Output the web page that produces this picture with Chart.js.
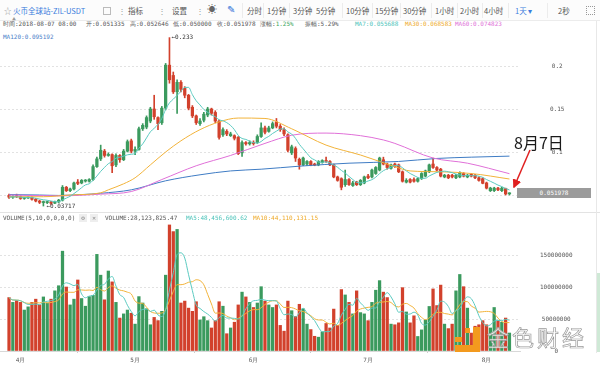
<!DOCTYPE html>
<html>
<head>
<meta charset="utf-8">
<script src="https://cdn.jsdelivr.net/npm/chart.js"></script>
<style>
  body { margin:0; width:600px; height:365px; position:relative; overflow:hidden; background:#fff;
         font-family:"Noto Sans CJK SC","Noto Sans",sans-serif; }
  .a { position:absolute; white-space:nowrap; }
  .tb { font-size:7.5px; color:#555; top:5px; line-height:12px; }
  .sep { position:absolute; top:3px; width:1px; height:15px; background:#ececec; }
  .mono { font-family:"DejaVu Sans Mono",monospace; font-size:6px; color:#555; line-height:8px; }
  .box { position:absolute; left:0; width:600px; }
</style>
</head>
<body>
<!-- toolbar -->
<div class="a" style="left:0;top:0;width:600px;height:20px;background:#fcfcfc;border-bottom:1px solid #ececec"></div>
<div class="a tb" style="left:4px;color:#999">☆</div>
<div class="a tb" style="left:13px;color:#3b7ddd">火币全球站-ZIL-USDT</div>
<div class="a" style="left:103px;top:7px;width:6px;height:6px;border:1px solid #bbb"></div>
<div class="a tb" style="left:118px;color:#999">⋮</div>
<div class="a tb" style="left:128px">指标</div>
<div class="a tb" style="left:158px;color:#999">⋮</div>
<div class="a tb" style="left:172px">设置</div>
<div class="a tb" style="left:196px;color:#999">⋮</div>
<div class="a tb" style="left:207px;top:3px;font-size:10px;color:#666">☀</div>
<div class="a tb" style="left:227px;top:3px;font-size:10px;color:#2f6fd8">✎</div>
<div class="sep" style="left:242px"></div>
<div class="a tb" style="left:247px">分时</div>
<div class="sep" style="left:263px"></div>
<div class="a tb" style="left:267px">1分钟</div>
<div class="sep" style="left:289px"></div>
<div class="a tb" style="left:293px">3分钟</div>
<div class="a tb" style="left:316px">5分钟</div>
<div class="sep" style="left:342px"></div>
<div class="a tb" style="left:346px">10分钟</div>
<div class="sep" style="left:372px"></div>
<div class="a tb" style="left:375px">15分钟</div>
<div class="sep" style="left:400px"></div>
<div class="a tb" style="left:403px">30分钟</div>
<div class="sep" style="left:431px"></div>
<div class="a tb" style="left:435px">1小时</div>
<div class="sep" style="left:457px"></div>
<div class="a tb" style="left:460px">2小时</div>
<div class="sep" style="left:482px"></div>
<div class="a tb" style="left:484px">4小时</div>
<div class="sep" style="left:508px"></div>
<div class="a tb" style="left:515px;color:#3b7ddd">1天 ▾</div>
<div class="sep" style="left:547px"></div>
<div class="a tb" style="left:558px">2秒</div>
<div class="a" style="left:586px;top:6px;width:7px;height:7px;border:1px dotted #999"></div>
<div class="a" style="left:12px;top:16px;font-size:4px;color:#999">▲</div>

<!-- info line -->
<div class="a mono" style="left:3px;top:20px">时间:2018-08-07 08:00</div>
<div class="a mono" style="left:86px;top:20px">开:0.051335</div>
<div class="a mono" style="left:130px;top:20px">高:0.052646</div>
<div class="a mono" style="left:173px;top:20px">低:0.050000</div>
<div class="a mono" style="left:217px;top:20px">收:0.051978</div>
<div class="a mono" style="left:260px;top:20px">涨幅:<span style="color:#3aa55a">1.25%</span></div>
<div class="a mono" style="left:305px;top:20px">振幅:5.29%</div>
<div class="a mono" style="left:355px;top:20px;color:#4cc3b9">MA7:0.055688</div>
<div class="a mono" style="left:405px;top:20px;color:#eeaa2a">MA30:0.068583</div>
<div class="a mono" style="left:455px;top:20px;color:#e070d8">MA60:0.074823</div>
<div class="a mono" style="left:3px;top:33px;color:#4a80c8">MA120:0.095192</div>

<div class="a" style="left:0;top:212px;width:600px;height:1px;background:#e3e3e3"></div>
<div class="box" style="top:213px;height:152px"><canvas id="volChart"></canvas></div>
<div class="box" style="top:29px;height:187px"><canvas id="priceChart"></canvas></div>
<div class="a" style="left:596px;top:21px;width:1px;height:332px;background:#e8e8e8"></div>
<div class="a" style="left:597px;top:273px;width:3px;height:79px;background:#cfe9d6"></div>

<!-- volume header -->
<div class="a mono" style="left:3px;top:214px">VOLUME(5,10,0,0,0,0)</div>
<div class="a mono" style="left:79px;top:214px;width:8px;text-align:center;background:#eee;color:#888">⚙</div>
<div class="a mono" style="left:90px;top:214px;width:8px;text-align:center;background:#eee;color:#888">✕</div>
<div class="a mono" style="left:105px;top:214px">VOLUME:28,123,825.47</div>
<div class="a mono" style="left:186px;top:214px;color:#4cc3b9">MA5:48,456,600.62</div>
<div class="a mono" style="left:253px;top:214px;color:#eeaa2a">MA10:44,110,131.15</div>

<!-- last price tag -->
<div class="a mono" style="left:517px;top:188px;width:74px;height:10px;line-height:10px;background:#9b9b9b;color:#fff;text-align:center">0.051978</div>

<!-- annotation -->
<div class="a" style="left:514px;top:132px;font-size:16px;line-height:20px;color:#1a1a1a">8月7日</div>
<svg class="a" style="left:0;top:0" width="600" height="365">
  <defs><marker id="ah" markerWidth="6" markerHeight="6" refX="5" refY="3" orient="auto"><path d="M0,0 L6,3 L0,6 z" fill="#e02020"/></marker></defs>
  <line x1="530" y1="150" x2="514" y2="187" stroke="#e02020" stroke-width="1.5" marker-end="url(#ah)"/>
</svg>

<!-- watermark -->
<div class="a" style="left:473px;top:327px;width:7px;height:25px;background:#f39a1e"></div>
<div class="a" style="left:455px;top:345px;width:25px;height:7px;background:#f39a1e"></div>
<div class="a" style="left:465px;top:328px;width:5px;height:5px;background:#f39a1e"></div>
<div class="a" style="left:455px;top:337px;width:7px;height:5px;background:#f39a1e"></div>
<div class="a" style="left:487px;top:323px;font-size:22px;line-height:26px;letter-spacing:3px;color:rgba(255,255,255,0.8);-webkit-text-stroke:0.7px #999">金色财经</div>

<script>
// daily candles, 2018-03-29 .. 2018-08-07 (index 0..131)
const open = [0.0495,0.0475,0.0485,0.048,0.046,0.0465,0.047,0.045,0.043,0.0412,
  0.0412,0.042,0.0405,0.042,0.044,0.059,0.055,0.057,0.065,0.064,
  0.0662,0.066,0.068,0.083,0.092,0.101,0.096,0.097,0.085,0.096,
  0.091,0.101,0.113,0.101,0.103,0.127,0.129,0.136,0.150,0.140,
  0.134,0.151,0.201,0.189,0.170,0.181,0.174,0.166,0.152,0.142,
  0.133,0.137,0.143,0.150,0.146,0.136,0.120,0.124,0.119,0.119,
  0.117,0.099,0.111,0.1095,0.111,0.111,0.118,0.128,0.124,0.128,
  0.135,0.130,0.126,0.120,0.099,0.104,0.0915,0.085,0.086,0.089,
  0.086,0.085,0.088,0.090,0.089,0.085,0.071,0.069,0.062,0.068,
  0.061,0.065,0.062,0.064,0.072,0.071,0.075,0.079,0.091,0.086,
  0.081,0.086,0.085,0.077,0.065,0.068,0.068,0.066,0.069,0.072,
  0.077,0.086,0.082,0.080,0.071,0.073,0.073,0.070,0.071,0.075,
  0.071,0.074,0.073,0.070,0.069,0.064,0.055,0.055,0.058,0.055,
  0.0575,0.051335];
const high = [0.051,0.049,0.051,0.049,0.047,0.048,0.048,0.046,0.044,0.043,
  0.043,0.0425,0.043,0.045,0.061,0.060,0.058,0.065,0.068,0.068,
  0.068,0.069,0.085,0.094,0.108,0.103,0.099,0.098,0.098,0.097,
  0.103,0.114,0.115,0.106,0.129,0.133,0.142,0.152,0.166,0.141,
  0.153,0.203,0.233,0.193,0.184,0.183,0.176,0.167,0.154,0.143,
  0.139,0.146,0.152,0.151,0.148,0.137,0.128,0.126,0.123,0.120,
  0.118,0.113,0.112,0.113,0.113,0.120,0.134,0.130,0.130,0.135,
  0.139,0.132,0.128,0.121,0.108,0.106,0.093,0.094,0.090,0.090,
  0.087,0.090,0.091,0.094,0.090,0.086,0.072,0.070,0.079,0.069,
  0.066,0.066,0.068,0.072,0.074,0.080,0.083,0.094,0.094,0.087,
  0.086,0.087,0.086,0.078,0.069,0.069,0.070,0.070,0.076,0.079,
  0.086,0.093,0.083,0.081,0.074,0.074,0.074,0.074,0.077,0.076,
  0.074,0.075,0.074,0.071,0.070,0.065,0.059,0.059,0.059,0.059,
  0.058,0.052646];
const low = [0.046,0.046,0.047,0.045,0.045,0.046,0.044,0.042,0.040,0.03717,
  0.040,0.039,0.040,0.041,0.043,0.054,0.054,0.056,0.062,0.063,
  0.065,0.065,0.067,0.082,0.090,0.094,0.095,0.076,0.083,0.088,
  0.090,0.100,0.099,0.097,0.102,0.125,0.127,0.134,0.138,0.126,
  0.132,0.149,0.180,0.168,0.145,0.170,0.163,0.149,0.140,0.132,
  0.131,0.135,0.141,0.143,0.134,0.115,0.118,0.119,0.118,0.114,
  0.097,0.095,0.108,0.108,0.108,0.110,0.117,0.121,0.123,0.127,
  0.128,0.124,0.119,0.100,0.097,0.089,0.080,0.084,0.084,0.084,
  0.084,0.084,0.087,0.088,0.084,0.070,0.066,0.056,0.060,0.061,
  0.060,0.061,0.061,0.063,0.069,0.070,0.074,0.078,0.085,0.080,
  0.080,0.082,0.076,0.065,0.064,0.064,0.065,0.065,0.068,0.071,
  0.076,0.081,0.078,0.071,0.070,0.069,0.070,0.069,0.070,0.071,
  0.070,0.071,0.069,0.066,0.063,0.057,0.054,0.054,0.055,0.054,
  0.050,0.050];
const close = [0.0475,0.048,0.048,0.046,0.0467,0.047,0.045,0.043,0.0415,0.042,
  0.042,0.0405,0.042,0.044,0.059,0.055,0.057,0.064,0.0635,0.067,
  0.0668,0.068,0.083,0.092,0.102,0.096,0.097,0.084,0.096,0.091,
  0.101,0.112,0.101,0.103,0.127,0.131,0.140,0.150,0.141,0.133,
  0.151,0.201,0.184,0.170,0.181,0.173,0.166,0.151,0.142,0.134,
  0.136,0.144,0.150,0.145,0.136,0.117,0.126,0.121,0.121,0.116,
  0.098,0.111,0.1095,0.111,0.1098,0.118,0.128,0.123,0.128,0.133,
  0.130,0.126,0.121,0.102,0.106,0.093,0.085,0.093,0.089,0.085,
  0.0848,0.089,0.090,0.089,0.085,0.071,0.067,0.059,0.068,0.062,
  0.064,0.062,0.067,0.071,0.070,0.079,0.082,0.093,0.086,0.082,
  0.085,0.083,0.077,0.066,0.067,0.065,0.066,0.069,0.075,0.078,
  0.085,0.082,0.079,0.072,0.073,0.070,0.071,0.073,0.076,0.072,
  0.073,0.072,0.070,0.067,0.0636,0.058,0.058,0.058,0.056,0.058,
  0.0512,0.051978];
// volume in millions
const volume = [83.5,76,79,76,64,69,76,81,72,84.5,
  75,81,94,102,156,100,72,81,111,82,
  70,85,87,151,118.5,80,125,108,76,51.5,
  58,64,59,42,85,75,66,41,52.5,47.5,
  62,118.5,197,186.6,190,75,78,67,62,77,
  48.5,53.6,47.4,36,47.4,77,70,27,36,45,
  72,92,84.5,76,68,75,100.5,78,72,68,
  72,40,31,78,63,54,73,66,42,33.5,
  23,21.6,30,43,36,65.5,40,96,87.6,76,
  58,94,60,58,47.4,76,95,110,92,83.5,
  42,41,44,99,61,44,55,22.7,33,48.5,
  69.6,97,71,103,42,35,42,94,119.6,100.5,
  67,28,38.7,41,47.4,41,36,68,47.4,45,
  51.5,28.1];

// long moving averages (day index -> value)
const ma30Idx = [0,9,16,24,26,30,33,37,41,45,50,55,60,67,74,83,92,97,101,105,113,121,131];
const ma30Val = [0.048,0.048,0.050,0.0525,0.056,0.063,0.070,0.085,0.100,0.113,0.126,0.135,0.1395,0.139,0.127,0.108,0.0965,0.089,0.083,0.078,0.077,0.075,0.0686];
const ma60Idx = [0,13,24,32,40,49,58,67,74,83,92,98,101,111,120,131];
const ma60Val = [0.050,0.049,0.051,0.054,0.068,0.084,0.096,0.110,0.1195,0.122,0.119,0.114,0.110,0.093,0.087,0.0748];
const ma120Idx = [0,8,13,19,24,32,41,50,58,66,76,89,102,112,121,131];
const ma120Val = [0.0505,0.050,0.0495,0.0505,0.052,0.056,0.0665,0.0735,0.078,0.080,0.0835,0.087,0.089,0.0925,0.094,0.0952];

const monthTicks = [3, 33, 64, 94, 125];
const monthLabels = ['4月', '5月', '6月', '7月', '8月'];
const priceTicks = [0.05, 0.1, 0.15, 0.2];
const volTicks = [0, 50, 100, 150];

const upColor = '#3b9a5e', downColor = '#d2412c';
const barColors = close.map((c, i) => c >= open[i] ? upColor : downColor);

function movingAvg(vals, n) {
  return vals.map((v, i) => {
    const s = vals.slice(Math.max(0, i - n + 1), i + 1);
    return s.reduce((a, b) => a + b, 0) / s.length;
  });
}
const pts = (idx, val) => idx.map((x, k) => ({x: x, y: val[k]}));
const series = vals => vals.map((v, i) => ({x: i, y: v}));

const monoFont = {family: 'DejaVu Sans Mono', size: 6};
const xMin = -2.36, xMax = 133.76;

// label the highest high / lowest low
const hiLo = {
  id: 'hiLo',
  afterDatasetsDraw(chart) {
    const {ctx, scales: {x, y}} = chart;
    const hi = Math.max(...high), lo = Math.min(...low);
    const iHi = high.indexOf(hi), iLo = low.indexOf(lo);
    ctx.save();
    ctx.font = '6px "DejaVu Sans Mono"';
    ctx.fillStyle = '#333';
    ctx.textBaseline = 'middle';
    ctx.fillText('←' + hi, x.getPixelForValue(iHi) + 2, y.getPixelForValue(hi));
    ctx.fillText('←' + lo, x.getPixelForValue(iLo) + 3, y.getPixelForValue(lo));
    ctx.restore();
  }
};

const lineDs = (data, color) => ({
  type: 'line', data: data, borderColor: color, borderWidth: 1, pointRadius: 0,
  fill: false, order: 0, cubicInterpolationMode: 'monotone'
});

const baseOpts = {
  responsive: true, maintainAspectRatio: false, animation: false,
  devicePixelRatio: 1,
  plugins: {legend: {display: false}, tooltip: {enabled: false}}
};

// y axis on the right; label offset done with invisible tick marks
const rightAxis = (min, max, ticks, offset, fmt) => ({
  position: 'right', min: min, max: max,
  afterBuildTicks: s => { s.ticks = ticks.map(v => ({value: v})); },
  afterFit: s => { s.width = 80; },
  grid: {color: '#e2e2e2', drawTicks: true, tickLength: offset, tickColor: 'rgba(0,0,0,0)'},
  border: {display: false, dash: [2, 2]},
  ticks: {padding: 0, crossAlign: 'center', font: monoFont, color: '#555', callback: fmt}
});

new Chart(document.getElementById('priceChart'), {
  type: 'bar',
  data: {
    datasets: [
      lineDs(series(movingAvg(close, 7)), '#5bcac0'),
      lineDs(pts(ma30Idx, ma30Val), '#f2b33a'),
      lineDs(pts(ma60Idx, ma60Val), '#e070d8'),
      lineDs(pts(ma120Idx, ma120Val), '#3f7cc4'),
      { data: high.map((h, i) => ({x: i, y: [low[i], h]})), backgroundColor: barColors,
        barThickness: 1, grouped: false, order: 2 },
      { data: open.map((o, i) => ({x: i, y: [o, close[i]]})), backgroundColor: barColors,
        barThickness: 2.6, minBarLength: 1, grouped: false, order: 1 }
    ]
  },
  options: Object.assign({}, baseOpts, {
    layout: {padding: {top: 6, bottom: 6, left: 0, right: 0}},
    scales: {
      x: {type: 'linear', min: xMin, max: xMax, display: false, offset: false},
      y: rightAxis(0.03256, 0.23605, priceTicks, 30, v => String(+v.toFixed(2)))
    }
  }),
  plugins: [hiLo]
});

new Chart(document.getElementById('volChart'), {
  type: 'bar',
  data: {
    datasets: [
      lineDs(series(movingAvg(volume, 5)), '#5bcac0'),
      lineDs(series(movingAvg(volume, 10)), '#f2b33a'),
      { data: series(volume), backgroundColor: barColors, barThickness: 2.6, order: 1 }
    ]
  },
  options: Object.assign({}, baseOpts, {
    layout: {padding: {top: 9, bottom: 0, left: 0, right: 0}},
    scales: {
      x: {
        type: 'linear', min: xMin, max: xMax, offset: false,
        afterBuildTicks: s => { s.ticks = monthTicks.map(v => ({value: v})); },
        afterFit: s => { s.height = 14; },
        grid: {drawOnChartArea: false, drawTicks: true, tickLength: 2, color: '#ccc'},
        border: {display: true, color: '#d8d8d8'},
        ticks: {padding: 4, autoSkip: false, maxRotation: 0, font: monoFont, color: '#555',
                callback: (v, i) => monthLabels[i]}
      },
      y: rightAxis(0, 201.6, volTicks, 20, v => String(Math.round(v * 1e6)))
    }
  })
});
</script>
</body>
</html>
